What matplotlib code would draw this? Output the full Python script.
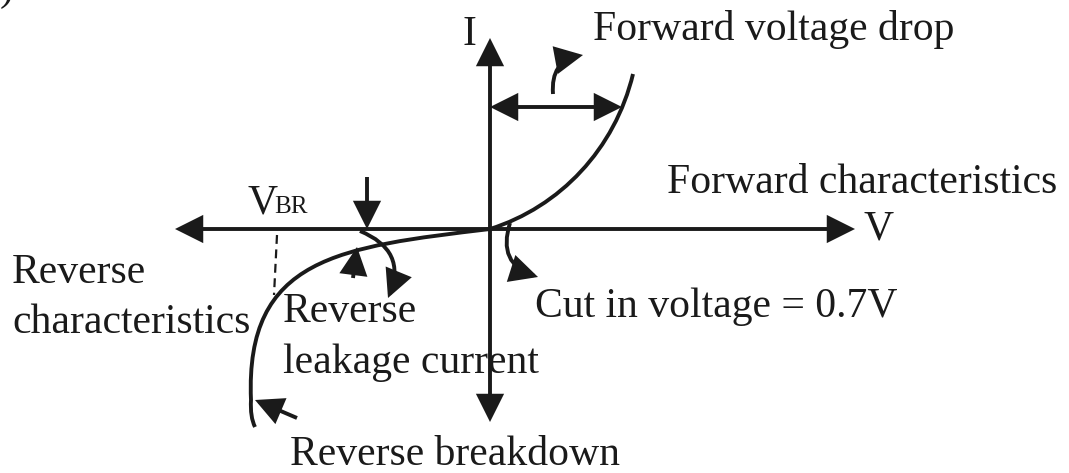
import matplotlib
matplotlib.use("Agg")
import matplotlib.pyplot as plt
from matplotlib.path import Path
from matplotlib.patches import PathPatch, FancyArrowPatch, ArrowStyle

# ---------------- data (diagram units, origin at the axes crossing) ----------------
# characteristic curve (Bezier control points)
FWD_V = [0, 70, 125, 143]
FWD_I = [0, 22, 80, 155]
REV_V = [0, -150, -245, -239, -240, -235]
REV_I = [0, -18, -28, -171, -188, -198]

# axes extent
V_AXIS = (-315, 365)   # left tip, right tip
I_AXIS = (-193, 191)   # bottom tip, top tip

# dashed breakdown marker
VBR_V = [-213, -216]
VBR_I = [-6, -66]

# annotation arrows: (tail, tip, curvature)
DROP_ARROW = ((0, 122), (132, 122))
DROP_POINTER = ((63, 135), (93, 174), -0.45)
LEAK_DOWN = ((-123, 52), (-123, 0), 0.0)
LEAK_CURVE = ((-130, -2), (-102, -69), -0.5)
LEAK_UP = ((-137, -49), (-133, -18), 0.0)
CUTIN_CURVE = ((20, 6), (48, -48), 0.5)
BREAK_ARROW = ((-193, -189), (-235, -171), 0.0)

# labels: (text, x, baseline y)
LABELS = [
    ("I", -28, 184),
    ("Forward voltage drop", 103, 189),
    ("Forward characteristics", 177, 36),
    ("V", 373, -11),
    ("V", -243, 16),
    ("Reverse", -478, -54),
    ("characteristics", -478, -104),
    ("Reverse", -207, -93),
    ("leakage current", -207, -144),
    ("Cut in voltage = 0.7V", 45, -88),
    ("Reverse breakdown", -200, -236),
    (")", -490, 229),
]
SUB_LABEL = ("BR", -216, 16)

# ---------------- drawing ----------------
FONT = ["Liberation Serif", "DejaVu Serif"]
LW = 2.8
HEAD = ArrowStyle("-|>", head_length=1.0, head_width=0.5)
DHEAD = ArrowStyle("<|-|>", head_length=1.0, head_width=0.5)
MS = 15.8
INK = "#1a1a1a"

fig = plt.figure(figsize=(10.69, 4.73), dpi=100)
ax = fig.add_axes([0, 0, 1, 1])
ax.set_xlim(-490, 579)
ax.set_ylim(-244, 229)
ax.axis("off")


def arrow(tail, tip, rad=0.0, style=HEAD, lw=LW):
    p = FancyArrowPatch(tail, tip, arrowstyle=style, mutation_scale=MS,
                        connectionstyle=f"arc3,rad={rad}", lw=lw,
                        color=INK, shrinkA=0, shrinkB=0,
                        joinstyle="miter", capstyle="butt")
    ax.add_patch(p)


# axes
arrow((0, 0), (V_AXIS[1], 0))
arrow((0, 0), (V_AXIS[0], 0))
arrow((0, 0), (0, I_AXIS[1]))
arrow((0, 0), (0, I_AXIS[0]))

# forward curve
fwd = Path(list(zip(FWD_V, FWD_I)), [Path.MOVETO, Path.CURVE4, Path.CURVE4, Path.CURVE4])
ax.add_patch(PathPatch(fwd, fill=False, lw=LW, ec=INK, capstyle="butt"))

# reverse curve
rev = Path(list(zip(REV_V, REV_I)),
           [Path.MOVETO, Path.CURVE4, Path.CURVE4, Path.CURVE4, Path.CURVE3, Path.CURVE3])
ax.add_patch(PathPatch(rev, fill=False, lw=LW, ec=INK, capstyle="butt"))

# dashed breakdown line
ax.plot(VBR_V, VBR_I, ls=(0, (4, 2.5)), lw=1.6, color=INK)

# annotation arrows
arrow(DROP_ARROW[0], DROP_ARROW[1], 0.0, style=DHEAD)
for a in (DROP_POINTER, LEAK_DOWN, LEAK_CURVE, LEAK_UP, CUTIN_CURVE, BREAK_ARROW):
    arrow(a[0], a[1], a[2])

# labels
for txt, x, y in LABELS:
    ax.text(x, y, txt, family=FONT, fontsize=30, color=INK,
            ha="left", va="baseline", clip_on=False)
ax.text(SUB_LABEL[1], SUB_LABEL[2], SUB_LABEL[0], family=FONT, fontsize=18,
        color=INK, ha="left", va="baseline")

fig.savefig("out.png", dpi=100)
